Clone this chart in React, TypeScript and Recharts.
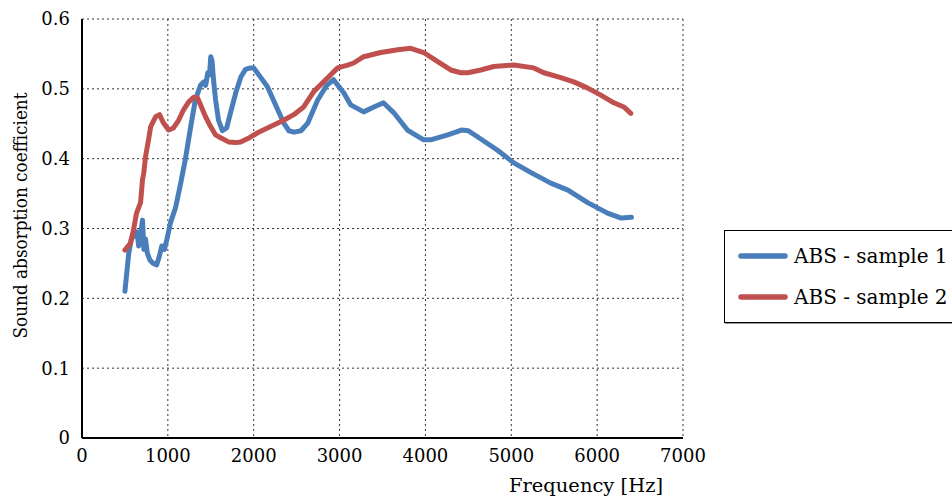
import { LineChart, Line, XAxis, YAxis, CartesianGrid } from 'recharts';

const sample1Freq = [500, 520, 545, 575, 610, 640, 660, 680, 705, 720, 740, 760, 790, 830, 870, 900, 930, 960, 990, 1030, 1090, 1150, 1205, 1265, 1320, 1380, 1420, 1440, 1465, 1485, 1500, 1515, 1530, 1556, 1590, 1635, 1685, 1730, 1790, 1850, 1905, 1960, 2000, 2060, 2160, 2280, 2350, 2410, 2470, 2550, 2630, 2745, 2850, 2930, 3050, 3130, 3280, 3400, 3510, 3630, 3790, 3980, 4060, 4260, 4420, 4500, 4610, 4840, 5030, 5230, 5460, 5660, 5890, 6120, 6280, 6400];
const sample1Abs = [0.21, 0.235, 0.265, 0.285, 0.29, 0.295, 0.275, 0.29, 0.312, 0.27, 0.285, 0.265, 0.255, 0.25, 0.248, 0.26, 0.275, 0.27, 0.285, 0.308, 0.33, 0.365, 0.4, 0.445, 0.484, 0.505, 0.51, 0.505, 0.523, 0.52, 0.546, 0.54, 0.515, 0.484, 0.455, 0.44, 0.444, 0.466, 0.494, 0.517, 0.528, 0.53, 0.53, 0.52, 0.503, 0.47, 0.451, 0.44, 0.438, 0.44, 0.451, 0.484, 0.505, 0.513, 0.494, 0.477, 0.467, 0.474, 0.48, 0.466, 0.441, 0.427, 0.427, 0.434, 0.441, 0.44, 0.431, 0.412, 0.394, 0.38, 0.365, 0.355, 0.337, 0.322, 0.315, 0.316];

const sample2Freq = [500, 565, 600, 635, 660, 682, 705, 720, 740, 775, 800, 857, 903, 950, 1008, 1066, 1125, 1183, 1241, 1300, 1346, 1381, 1439, 1498, 1556, 1614, 1707, 1789, 1847, 1950, 2045, 2197, 2349, 2466, 2582, 2699, 2862, 2978, 3094, 3164, 3281, 3479, 3677, 3828, 3980, 4143, 4295, 4411, 4493, 4645, 4796, 5029, 5262, 5379, 5577, 5728, 5891, 6043, 6195, 6311, 6393];
const sample2Abs = [0.269, 0.279, 0.298, 0.322, 0.33, 0.337, 0.37, 0.38, 0.403, 0.427, 0.446, 0.46, 0.463, 0.451, 0.441, 0.444, 0.455, 0.47, 0.481, 0.488, 0.487, 0.477, 0.46, 0.446, 0.434, 0.43, 0.424, 0.423, 0.424, 0.43, 0.437, 0.446, 0.455, 0.463, 0.474, 0.496, 0.516, 0.53, 0.534, 0.537, 0.546, 0.552, 0.556, 0.558, 0.552, 0.539, 0.527, 0.523, 0.523, 0.527, 0.532, 0.534, 0.53, 0.523, 0.516, 0.51, 0.501, 0.491, 0.48, 0.474, 0.465];

const xTicks = [0, 1000, 2000, 3000, 4000, 5000, 6000, 7000];
const yTicks = [0, 0.1, 0.2, 0.3, 0.4, 0.5, 0.6];

const seriesNames = ['ABS - sample 1', 'ABS - sample 2'];
const seriesColors = ['#4a7ebb', '#c0504d'];

const sample1 = sample1Freq.map((f, i) => ({ f, v: sample1Abs[i] }));
const sample2 = sample2Freq.map((f, i) => ({ f, v: sample2Abs[i] }));

const FONT = 'DejaVu Serif';

// legend sits to the right of the plot, partly cut off by the window edge
function LegendBox() {
  return (
    <div
      style={{
        position: 'absolute',
        left: 724,
        top: 230,
        width: 260,
        height: 93,
        border: '1px solid #000',
        boxShadow: '1px 1px 0 #999',
        background: '#fff',
        fontFamily: FONT,
        fontSize: 20,
        boxSizing: 'border-box',
        paddingTop: 7,
      }}
    >
      {seriesNames.map((name, i) => (
        <div key={name} style={{ display: 'flex', alignItems: 'center', height: 36, marginBottom: i === 0 ? 5 : 0 }}>
          <svg width={69} height={10}>
            <line x1={16} y1={5} x2={60} y2={5} stroke={seriesColors[i]} strokeWidth={5.5} strokeLinecap="round" />
          </svg>
          <span>{name}</span>
        </div>
      ))}
    </div>
  );
}

function YLabel({ viewBox }: any) {
  const cy = viewBox.y + viewBox.height / 2 - 13;
  return (
    <text x={20} y={cy} transform={`rotate(-90, 20, ${cy})`} textAnchor="middle" dominantBaseline="central" fontFamily={FONT} fontSize={18} textLength={246} lengthAdjust="spacingAndGlyphs" fill="#000">
      Sound absorption coefficient
    </text>
  );
}

function XLabel() {
  return (
    <text x={586} y={485} textAnchor="middle" dominantBaseline="central" fontFamily={FONT} fontSize={18} textLength={154} lengthAdjust="spacingAndGlyphs" fill="#000">
      Frequency [Hz]
    </text>
  );
}

export default function App() {
  return (
    <div style={{ position: 'absolute', left: 0, top: 0, width: 952, height: 497, background: '#fff', overflow: 'hidden' }}>
      <LineChart width={952} height={497} margin={{ top: 19, right: 269, left: 0, bottom: 0 }}>
        <CartesianGrid xAxisId="b" yAxisId="l" stroke="#333" strokeDasharray="2 3" strokeWidth={1} />
        <XAxis
          xAxisId="b"
          dataKey="f"
          type="number"
          domain={[0, 7000]}
          ticks={xTicks}
          height={59}
          tickLine={false}
          tickMargin={5}
          axisLine={{ stroke: '#000', strokeWidth: 2 }}
          tick={{ fill: '#000', fontSize: 18, fontFamily: FONT }}
          label={<XLabel />}
        />
        <XAxis xAxisId="t" orientation="top" type="number" domain={[0, 7000]} height={0} tick={false} tickLine={false} axisLine={{ stroke: '#000', strokeWidth: 2 }} />
        <YAxis
          yAxisId="l"
          type="number"
          domain={[0, 0.6]}
          ticks={yTicks}
          width={82}
          tickLine={false}
          tickMargin={6}
          axisLine={{ stroke: '#000', strokeWidth: 2 }}
          tick={{ fill: '#000', fontSize: 18, fontFamily: FONT }}
          label={<YLabel />}
        />
        <YAxis yAxisId="r" orientation="right" type="number" domain={[0, 0.6]} width={0} tick={false} tickLine={false} axisLine={{ stroke: '#000', strokeWidth: 2 }} />
        <Line
          xAxisId="b"
          yAxisId="l"
          data={sample1}
          dataKey="v"
          name={seriesNames[0]}
          type="linear"
          stroke={seriesColors[0]}
          strokeWidth={5}
          strokeLinecap="round"
          strokeLinejoin="round"
          dot={false}
          isAnimationActive={false}
        />
        <Line
          xAxisId="b"
          yAxisId="l"
          data={sample2}
          dataKey="v"
          name={seriesNames[1]}
          type="linear"
          stroke={seriesColors[1]}
          strokeWidth={5}
          strokeLinecap="round"
          strokeLinejoin="round"
          dot={false}
          isAnimationActive={false}
        />
      </LineChart>
      <LegendBox />
    </div>
  );
}
